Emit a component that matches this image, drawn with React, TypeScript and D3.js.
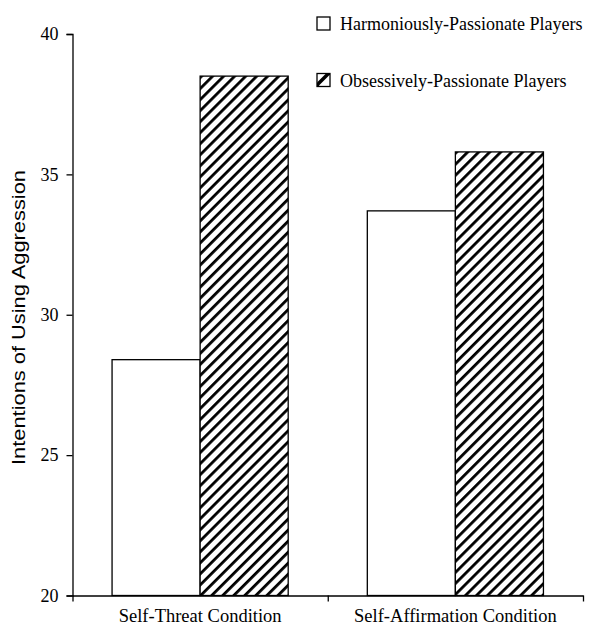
import { useEffect, useRef } from "react";
import { axisBottom, axisLeft, scaleBand, scaleLinear, select } from "d3";

const conditions = ["Self-Threat Condition", "Self-Affirmation Condition"];
const groups = ["Harmoniously-Passionate Players", "Obsessively-Passionate Players"];
const harmoniousValues = [28.4, 33.7];
const obsessiveValues = [38.5, 35.8];
const yTicks = [20, 25, 30, 35, 40];

const W = 593;
const H = 626;

const App = () => {
  const svgRef = useRef<SVGSVGElement>(null);

  useEffect(() => {
    const svg = select(svgRef.current);
    svg.selectAll("*").remove();

    const left = 72.5;
    const right = 583;
    const top = 34;
    const bottom = 595.5;

    // hatch pattern
    const defs = svg.append("defs");
    const pat = defs
      .append("pattern")
      .attr("id", "hatch")
      .attr("patternUnits", "userSpaceOnUse")
      .attr("width", 7.8)
      .attr("height", 7.8)
      .attr("patternTransform", "rotate(45)");
    pat.append("rect").attr("width", 7.8).attr("height", 7.8).attr("fill", "#fff");
    pat
      .append("line")
      .attr("x1", 0)
      .attr("y1", 0)
      .attr("x2", 0)
      .attr("y2", 7.8)
      .attr("stroke", "#000")
      .attr("stroke-width", 5.6);
    defs
      .append("clipPath")
      .attr("id", "legclip")
      .append("rect")
      .attr("width", 13)
      .attr("height", 13);

    const x = scaleBand<string>()
      .domain(conditions)
      .range([left, right])
      .paddingInner(0.31)
      .paddingOuter(0.155);
    const inner = scaleBand<string>()
      .domain(groups)
      .range([0, x.bandwidth()]);
    const y = scaleLinear().domain([20, 40]).range([bottom, top]);

    const rows = conditions.map((c, i) => ({
      cond: c,
      vals: [harmoniousValues[i], obsessiveValues[i]],
    }));

    const g = svg.append("g");
    rows.forEach((r) => {
      groups.forEach((grp, j) => {
        g.append("rect")
          .attr("x", x(r.cond)! + inner(grp)!)
          .attr("y", y(r.vals[j]))
          .attr("width", inner.bandwidth())
          .attr("height", y(20) - y(r.vals[j]))
          .attr("fill", j === 0 ? "#fff" : "url(#hatch)")
          .attr("stroke", "#000")
          .attr("stroke-width", 1.3);
      });
    });

    // Y axis
    const yAxis = svg
      .append("g")
      .attr("transform", `translate(${left},0)`)
      .call(axisLeft(y).tickValues(yTicks).tickSize(6).tickPadding(8));
    yAxis.select(".domain").attr("stroke-width", 1.3);
    yAxis.selectAll(".tick line").attr("stroke-width", 1.3);
    yAxis
      .selectAll("text")
      .attr("font-family", "Liberation Serif")
      .attr("font-size", 18)
      .attr("fill", "#000");

    // X axis with ticks at band edges
    const xEdge = scaleLinear().domain([0, conditions.length]).range([left, right]);
    const xAxis = svg
      .append("g")
      .attr("transform", `translate(0,${bottom})`)
      .call(
        axisBottom(xEdge)
          .tickValues(conditions.map((_, i) => i).concat(conditions.length))
          .tickSize(6)
          .tickSizeOuter(0)
          .tickFormat(() => "")
      );
    xAxis.select(".domain").attr("stroke-width", 1.3);
    xAxis.selectAll(".tick line").attr("stroke-width", 1.3);

    svg
      .append("g")
      .selectAll("text")
      .data(conditions)
      .join("text")
      .attr("x", (d) => x(d)! + x.bandwidth() / 2)
      .attr("y", 622)
      .attr("text-anchor", "middle")
      .attr("font-family", "Liberation Serif")
      .attr("font-size", 18.5)
      .text((d) => d);

    // Y title
    svg
      .append("text")
      .attr("transform", `translate(25,317.5) rotate(-90)`)
      .attr("text-anchor", "middle")
      .attr("font-family", "Liberation Sans")
      .attr("font-size", 18)
      .attr("textLength", 295)
      .attr("lengthAdjust", "spacingAndGlyphs")
      .text("Intentions of Using Aggression");

    // legend
    const leg = svg
      .append("g")
      .selectAll("g")
      .data(groups)
      .join("g")
      .attr("transform", (_, i) => `translate(317,${17 + i * 56.5})`);
    leg
      .append("rect")
      .attr("width", 13)
      .attr("height", 13)
      .attr("fill", "#fff");
    leg
      .filter((_, i) => i === 1)
      .append("g")
      .attr("clip-path", "url(#legclip)")
      .call((sel) => {
        sel.append("path").attr("d", "M0,13 L0,9 L9,0 L13,0 L13,1 L1,13 Z").attr("fill", "#000");
        sel.append("path").attr("d", "M0,13 L0,10 L3,13 Z").attr("fill", "#000");
      });
    leg
      .append("rect")
      .attr("width", 13)
      .attr("height", 13)
      .attr("fill", "none")
      .attr("stroke", "#000")
      .attr("stroke-width", 1.3);
    leg
      .append("text")
      .attr("x", 23)
      .attr("y", 13)
      .attr("font-family", "Liberation Serif")
      .attr("font-size", 18)
      .text((d) => d);
  }, []);

  return <svg ref={svgRef} width={W} height={H} style={{ position: "absolute", left: 0, top: 0 }} />;
};

export default App;
